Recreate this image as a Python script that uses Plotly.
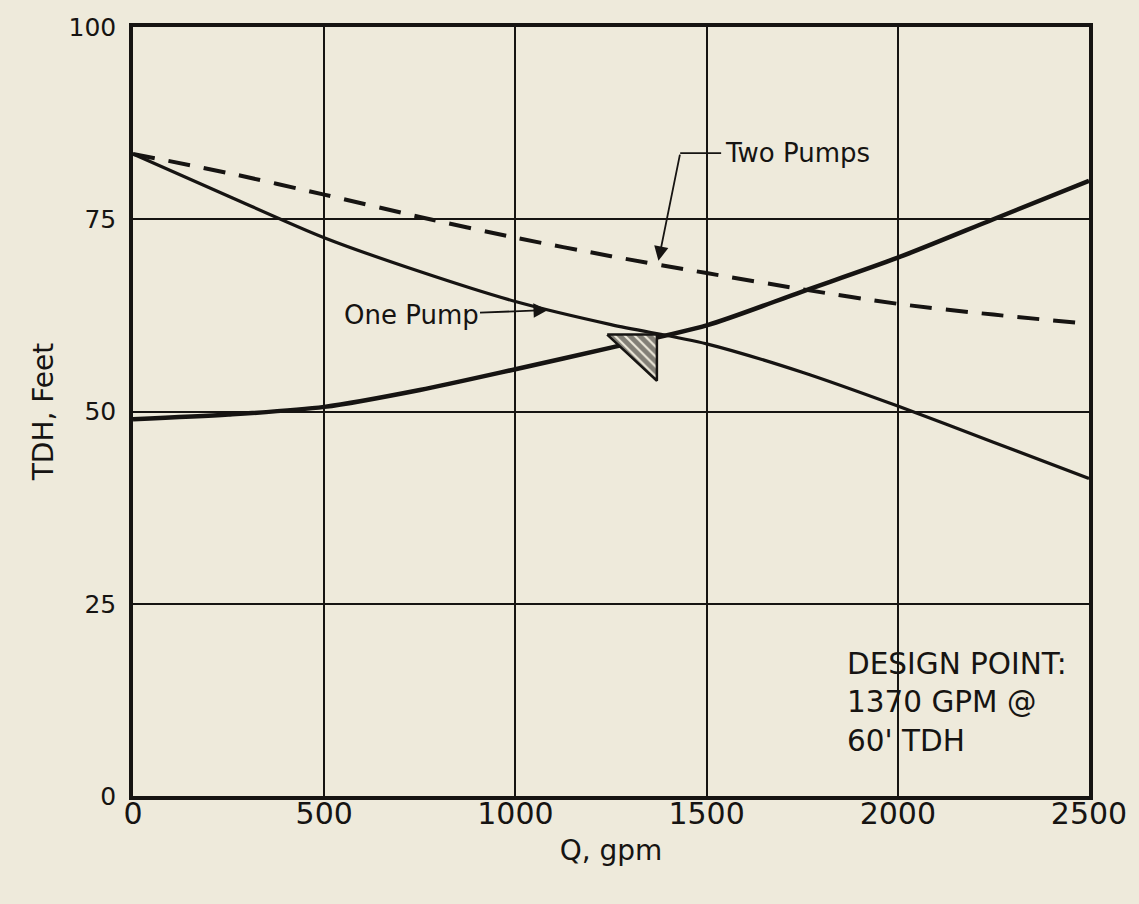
import plotly.graph_objects as go

# ---- data ----
flow_gpm = [0, 250, 500, 750, 1000, 1250, 1500, 1750, 2000, 2250, 2500]
system_tdh = [49.0, 49.6, 50.6, 52.8, 55.5, 58.3, 61.2, 65.6, 70.0, 75.0, 80.0]
one_pump_tdh = [83.5, 78.0, 72.6, 68.2, 64.3, 61.3, 58.8, 55.1, 50.7, 46.0, 41.3]
two_pumps_tdh = [83.5, 81.0, 78.2, 75.3, 72.6, 70.2, 68.0, 65.9, 64.0, 62.6, 61.4]

x_ticks = [0, 500, 1000, 1500, 2000, 2500]
x_tick_labels = ["0", "500", "1000", "1500", "2000", "2500"]
y_ticks = [0, 25, 50, 75, 100]
y_tick_labels = ["0", "25", "50", "75", "100"]

DESIGN_Q = 1370
DESIGN_H = 60

# ---- styling ----
INK = "#161412"
PAPER = "#eeeadb"
FONT = "DejaVu Sans"
TRI_W = 130   # gpm, width of the design-point flag
TRI_H = 6     # ft, height of the design-point flag

fig = go.Figure()

fig.add_trace(go.Scatter(
    x=flow_gpm, y=system_tdh, mode="lines", name="System",
    line=dict(color=INK, width=4.5, shape="spline", smoothing=0.8),
    showlegend=False, hoverinfo="x+y"))

fig.add_trace(go.Scatter(
    x=flow_gpm, y=one_pump_tdh, mode="lines", name="One Pump",
    line=dict(color=INK, width=3.2, shape="spline", smoothing=0.8),
    showlegend=False, hoverinfo="x+y"))

fig.add_trace(go.Scatter(
    x=flow_gpm, y=two_pumps_tdh, mode="lines", name="Two Pumps",
    line=dict(color=INK, width=4, dash="22px,14px", shape="spline", smoothing=0.8),
    showlegend=False, hoverinfo="x+y"))

# hatched design-point flag
fig.add_trace(go.Scatter(
    x=[DESIGN_Q - TRI_W, DESIGN_Q, DESIGN_Q, DESIGN_Q - TRI_W],
    y=[DESIGN_H, DESIGN_H, DESIGN_H - TRI_H, DESIGN_H],
    mode="lines", fill="toself",
    fillcolor=PAPER,
    fillpattern=dict(shape="\\", fgcolor=INK, bgcolor=PAPER, size=7, solidity=0.7),
    line=dict(color=INK, width=2.5),
    showlegend=False, hoverinfo="skip"))

# ---- annotations ----
# Two Pumps label with bent leader
fig.add_annotation(x=1543, y=83.6, xref="x", yref="y", text="Two Pumps",
                   showarrow=False, xanchor="left", yanchor="middle",
                   font=dict(family=FONT, size=26, color=INK))
fig.add_shape(type="line", x0=1431, x1=1538, y0=83.6, y1=83.6,
              xref="x", yref="y", line=dict(color=INK, width=1.8))
fig.add_annotation(x=1374, y=69.6, ax=1431, ay=83.6, axref="x", ayref="y",
                   xref="x", yref="y", text="", showarrow=True,
                   arrowhead=2, arrowsize=1.6, arrowwidth=1.8, arrowcolor=INK)

# One Pump label with arrow
fig.add_annotation(x=1085, y=63.2, ax=727, ay=62.5, axref="x", ayref="y",
                   xref="x", yref="y", text="One Pump", showarrow=True,
                   arrowhead=2, arrowsize=1.6, arrowwidth=1.8, arrowcolor=INK,
                   font=dict(family=FONT, size=26, color=INK))

# Design point note
fig.add_annotation(x=1862, y=12.2, xref="x", yref="y",
                   text="DESIGN POINT:<br>1370 GPM @<br>60' TDH",
                   showarrow=False, xanchor="left", yanchor="middle", align="left",
                   font=dict(family=FONT, size=29.5, color=INK))

fig.update_layout(
    width=1139, height=904,
    margin=dict(l=133, r=47, t=27, b=108),
    paper_bgcolor=PAPER, plot_bgcolor=PAPER,
    font=dict(family=FONT, color=INK),
    showlegend=False,
)

fig.update_xaxes(
    range=[0, 2500], tickmode="array", tickvals=x_ticks, ticktext=x_tick_labels,
    showgrid=True, gridcolor=INK, gridwidth=1.6, zeroline=False,
    showline=True, linecolor=INK, linewidth=3.5, mirror=True,
    ticks="", tickfont=dict(family=FONT, size=30, color=INK),
    ticklabelstandoff=-12,
    title=dict(text="Q, gpm", font=dict(family=FONT, size=28, color=INK), standoff=12),
)
fig.update_yaxes(
    range=[0, 100], tickmode="array", tickvals=y_ticks, ticktext=y_tick_labels,
    showgrid=True, gridcolor=INK, gridwidth=1.6, zeroline=False,
    showline=True, linecolor=INK, linewidth=3.5, mirror=True,
    ticks="", tickfont=dict(family=FONT, size=25, color=INK),
    ticklabelstandoff=8,
    title=dict(text="TDH, Feet", font=dict(family=FONT, size=28, color=INK), standoff=8),
)

fig.write_html(
    "out.html",
    config={"displayModeBar": False},
    post_script="document.body.style.margin='0';document.body.style.background='" + PAPER + "';",
)
